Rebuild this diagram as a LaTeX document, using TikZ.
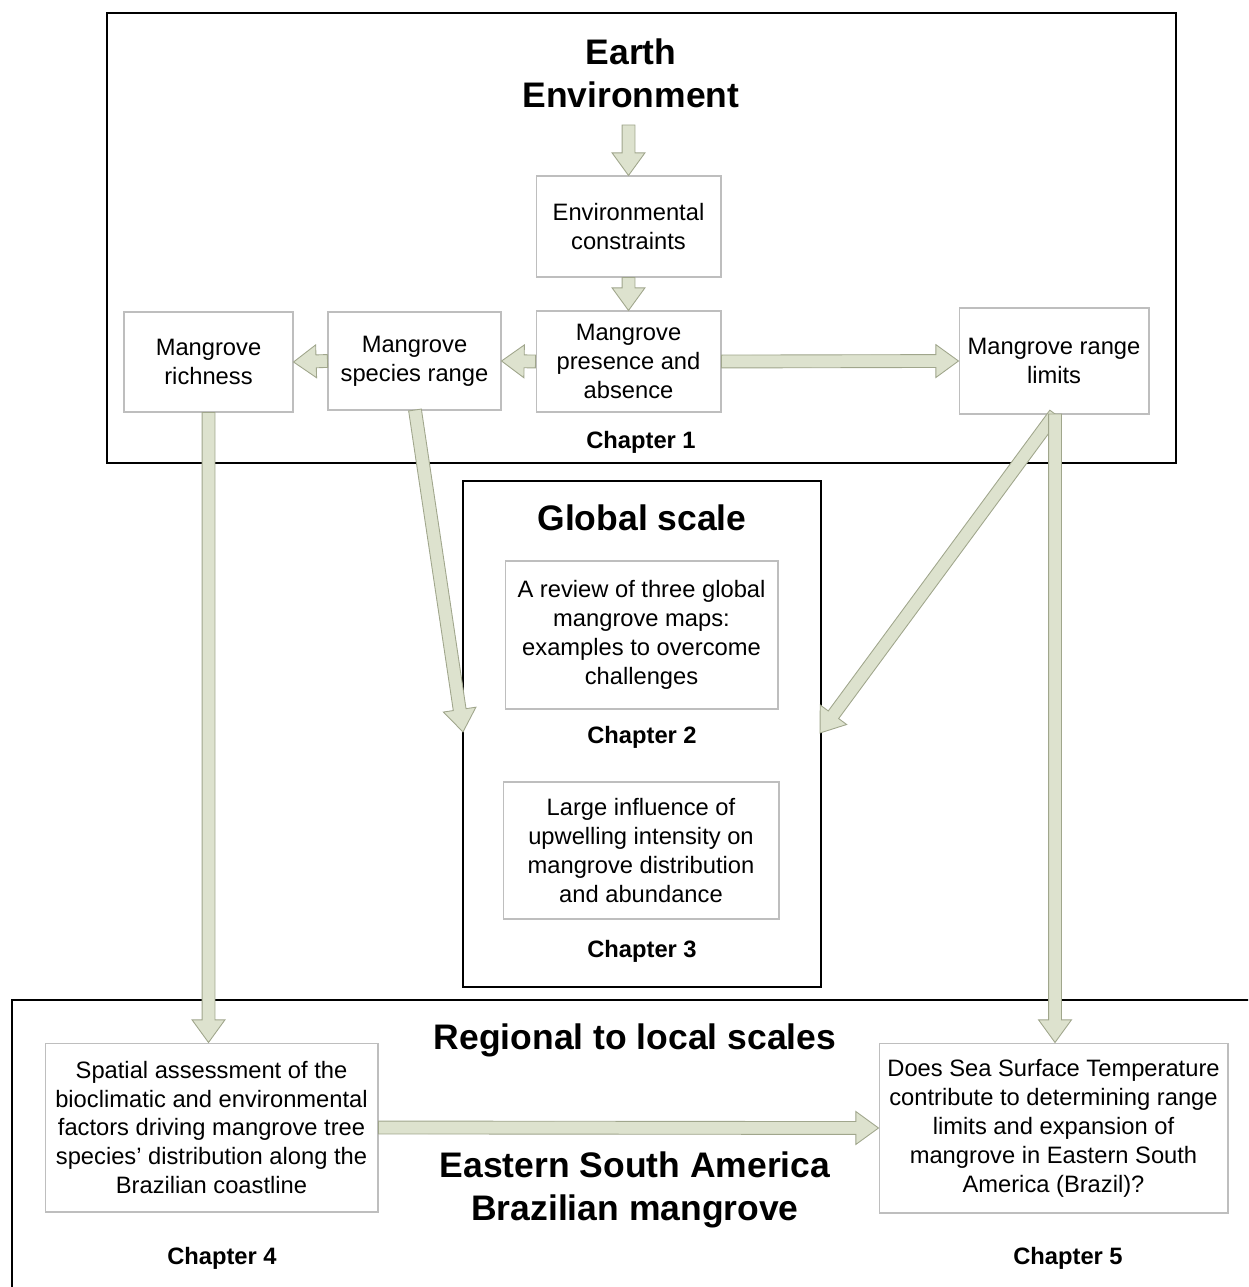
\documentclass[tikz,border=0pt]{standalone}
\usepackage{fontspec}
\setmainfont{Liberation Sans}
\usetikzlibrary{calc,shapes.arrows}

\definecolor{arrowfill}{RGB}{221,226,206}
\definecolor{arrowline}{RGB}{160,166,140}
\definecolor{boxline}{RGB}{190,190,190}

\tikzset{
  scalebox/.style={draw=black, line width=1.1pt},
  topicbox/.style={draw=boxline, line width=0.6pt, fill=white, align=center,
                   inner sep=0, font=\fontsize{13.5}{16.5}\selectfont},
  heading/.style={align=center, font=\fontsize{20.2}{24.5}\selectfont\bfseries},
  chaptertag/.style={font=\fontsize{13.5}{16.5}\selectfont\bfseries},
  barrow/.style={single arrow, draw=arrowline, fill=arrowfill, line width=0.5pt,
                 inner xsep=0, inner ysep=0.12cm, minimum width=0.64cm,
                 single arrow head extend=0.2cm, single arrow tip angle=72,
                 single arrow head indent=0, outer sep=0, anchor=tail},
}
% block arrow from #1 to #2
\newcommand{\blockarrow}[2]{%
  \path let \p1=($(#2)-(#1)$), \n1={veclen(\x1,\y1)}, \n2={atan2(\y1,\x1)} in
    node[barrow, minimum height=\n1, rotate=\n2] at (#1) {};}

\begin{document}
\begin{tikzpicture}[x=0.02cm, y=-0.02cm]
  % 1 unit = 1 px of the 1248 x 1287 layout
  \useasboundingbox (0,0) rectangle (1248,1287);
  \clip (0,0) rectangle (1248,1287);

  % ---- scale frames ----
  \draw[scalebox] (107,13) rectangle (1176,463);
  \draw[scalebox] (463,481) rectangle (821,987);
  \draw[scalebox] (12,1000) rectangle (1270,1310);

  % ---- headings ----
  \node[heading] (earth) at (631,73) {Earth\\Environment};
  \node[heading] (global) at (642,518) {Global scale};
  \node[heading] (regional) at (635,1040) {Regional to local scales};
  \node[heading] (brazil) at (635,1190) {Eastern South America\\Brazilian mangrove};

  % ---- chapter 1 boxes ----
  \node[topicbox, minimum width=3.7cm, minimum height=2.02cm] (env) at (628.5,226.5)
        {Environmental\\constraints};
  \node[topicbox, minimum width=3.7cm, minimum height=2.02cm] (pres) at (628.5,361.5)
        {Mangrove\\presence and\\absence};
  \node[topicbox, minimum width=3.46cm, minimum height=1.96cm] (species) at (414.5,361)
        {Mangrove\\species range};
  \node[topicbox, minimum width=3.38cm, minimum height=2.0cm] (rich) at (208.5,362)
        {Mangrove\\richness};
  \node[topicbox, minimum width=3.8cm, minimum height=2.12cm] (limits) at (1054,361)
        {Mangrove range\\limits};

  % ---- global scale boxes ----
  \node[topicbox, minimum width=5.46cm, minimum height=2.96cm] (review) at (641.5,635)
        {A review of three global\\mangrove maps:\\examples to overcome\\challenges};
  \node[topicbox, minimum width=5.52cm, minimum height=2.74cm] (upwell) at (641,850.5)
        {Large influence of\\upwelling intensity on\\mangrove distribution\\and abundance};

  % ---- regional boxes ----
  \node[topicbox, minimum width=6.66cm, minimum height=3.38cm] (spatial) at (211.5,1127.5)
        {Spatial assessment of the\\bioclimatic and environmental\\factors driving mangrove tree\\species' distribution along the\\Brazilian coastline};
  \node[topicbox, minimum width=6.98cm, minimum height=3.4cm] (sst) at (1053.5,1128)
        {Does Sea Surface Temperature\\contribute to determining range\\limits and expansion of\\mangrove in Eastern South\\America (Brazil)?};

  % ---- chapter tags ----
  \node[chaptertag] (ch1) at (641,442) {Chapter 1};
  \node[chaptertag] (ch2) at (642,737) {Chapter 2};
  \node[chaptertag] (ch3) at (642,951) {Chapter 3};
  \node[chaptertag] (ch4) at (222,1258) {Chapter 4};
  \node[chaptertag] (ch5) at (1068,1258) {Chapter 5};

  % ---- free arrow ends ----
  \coordinate (earthout) at (628.5,125);
  \coordinate (speciesout) at (415,410);
  \coordinate (limitsout) at (1055,414);
  \coordinate (globalin) at (463,732);
  \coordinate (globalin2) at (820,733);

  % ---- block arrows ----
  \blockarrow{earthout}{env.north}
  \blockarrow{env.south}{pres.north}
  \blockarrow{pres.west}{species.east}
  \blockarrow{species.west}{rich.east}
  \blockarrow{pres.east}{limits.west}
  \blockarrow{rich.south}{spatial.north -| rich.south}
  \blockarrow{speciesout}{globalin}
  \blockarrow{limitsout}{globalin2}
  \blockarrow{limitsout}{sst.north -| limitsout}
  \blockarrow{spatial.east}{sst.west}
\end{tikzpicture}
\end{document}
